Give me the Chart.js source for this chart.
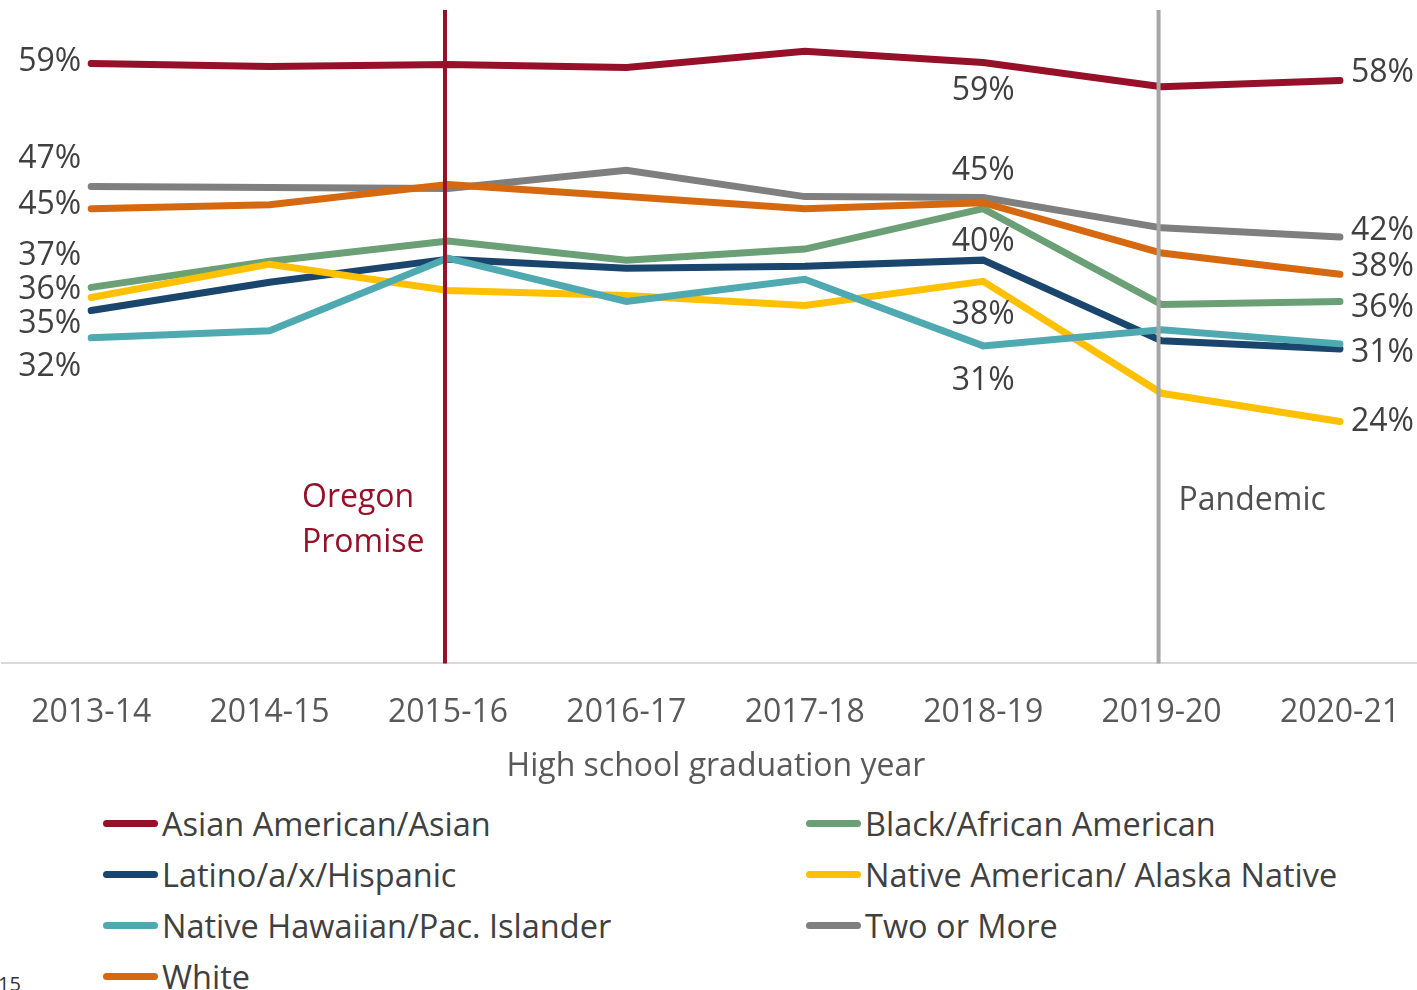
<!DOCTYPE html>
<html>
<head>
<meta charset="utf-8">
<script src="https://cdn.jsdelivr.net/npm/chart.js@4"></script>
<style>
  html, body { margin: 0; padding: 0; background: #fff; overflow: hidden; }
  body { width: 1417px; height: 990px; position: relative; font-family: "Open Sans", sans-serif; }
  #wrap { position: absolute; left: 0; top: 0; width: 1431px; height: 792px; }
  #legend { position: absolute; left: 103px; top: 798px; display: grid;
            grid-template-columns: 703px 560px; grid-auto-rows: 51px; }
  .item { display: flex; align-items: center; font-size: 32.5px; color: #404040; white-space: nowrap; }
  .swatch { width: 55px; height: 7px; border-radius: 4px; margin-right: 4px; }
  #page { position: absolute; left: -2px; top: 970px; font-size: 20px; color: #333; }
</style>
</head>
<body>
<div id="wrap"><canvas id="chart" width="1431" height="792"></canvas></div>
<div id="legend"></div>
<div id="page">15</div>
<script>
// Graduation years (x axis)
const years = ["2013-14", "2014-15", "2015-16", "2016-17", "2017-18", "2018-19", "2019-20", "2020-21"];

// Series values, % of graduates
const asian    = [59.4, 59.1, 59.3, 59.0, 60.6, 59.5, 57.1, 57.7];
const black    = [37.2, 39.8, 41.8, 39.9, 41.0, 45.0, 35.5, 35.8];
const latino   = [34.9, 37.7, 40.0, 39.1, 39.3, 39.9, 31.9, 31.1];
const nativeAm = [36.2, 39.5, 36.9, 36.4, 35.4, 37.8, 26.7, 23.9];
const nhpi     = [32.2, 32.9, 40.1, 35.8, 38.0, 31.4, 33.0, 31.6];
const twoMore  = [47.2, 47.1, 47.0, 48.8, 46.2, 46.1, 43.1, 42.2];
const white    = [45.0, 45.4, 47.4, 46.2, 45.0, 45.6, 40.6, 38.5];

const seriesNames = ["Asian American/Asian", "Black/African American", "Latino/a/x/Hispanic",
    "Native American/ Alaska Native", "Native Hawaiian/Pac. Islander", "Two or More", "White"];
const seriesColors = ["#951028", "#6B9F76", "#1A466E", "#FFC000", "#4FA9B0", "#7F7F7F", "#D6690F"];

// Value labels as printed on the chart: [text, value where the label sits]
const leftLabels  = [["59%", 59.6], ["47%", 49.9], ["45%", 45.4], ["37%", 40.3], ["36%", 37.0], ["35%", 33.6], ["32%", 29.3]];
const midLabels   = [["59%", 56.7], ["45%", 48.7], ["40%", 41.7], ["38%", 34.5], ["31%", 27.9]];
const rightLabels = [["58%", 58.5], ["42%", 42.8], ["38%", 39.2], ["36%", 35.2], ["31%", 30.7], ["24%", 23.9]];

// Event markers: [category index, lines of text, value where text sits]
const promise  = [2, ["Oregon", "Promise"], [16.3, 11.9]];
const pandemic = [6, ["Pandemic"], [16.0]];

const xTitle = "High school graduation year";

const allSeries = [asian, black, latino, nativeAm, nhpi, twoMore, white];
const FONT = '32px "Open Sans", sans-serif';

const overlay = {
    id: "overlay",
    afterDatasetsDraw(chart) {
        const { ctx, chartArea: area, scales: { x, y } } = chart;
        ctx.save();

        // vertical event lines
        [[promise[0], "#951028"], [pandemic[0], "#A6A6A6"]].forEach(([idx, color]) => {
            const px = x.getPixelForValue(idx) - 3;
            ctx.strokeStyle = color;
            ctx.lineWidth = 4;
            ctx.beginPath();
            ctx.moveTo(px, area.top);
            ctx.lineTo(px, area.bottom + 1);
            ctx.stroke();
        });

        ctx.font = FONT;
        ctx.textBaseline = "middle";
        ctx.fillStyle = "#404040";

        ctx.textAlign = "right";
        leftLabels.forEach(([t, v]) => ctx.fillText(t, x.getPixelForValue(0) - 10, y.getPixelForValue(v)));
        ctx.textAlign = "center";
        midLabels.forEach(([t, v]) => ctx.fillText(t, x.getPixelForValue(5), y.getPixelForValue(v)));
        ctx.textAlign = "left";
        rightLabels.forEach(([t, v]) => ctx.fillText(t, x.getPixelForValue(7) + 11, y.getPixelForValue(v)));

        ctx.fillStyle = "#951028";
        promise[1].forEach((t, i) => ctx.fillText(t, x.getPixelForValue(promise[0]) - 146, y.getPixelForValue(promise[2][i])));
        ctx.fillStyle = "#505050";
        pandemic[1].forEach((t, i) => ctx.fillText(t, x.getPixelForValue(pandemic[0]) + 17, y.getPixelForValue(pandemic[2][i])));

        // axis title, kept close under the tick labels
        ctx.fillStyle = "#595959";
        ctx.textAlign = "center";
        ctx.fillText(xTitle, 716, area.bottom + 104);

        ctx.restore();
    }
};

const chart = new Chart(document.getElementById("chart"), {
    type: "line",
    data: {
        labels: years,
        datasets: allSeries.map((data, i) => ({
            label: seriesNames[i],
            data,
            borderColor: seriesColors[i],
            backgroundColor: seriesColors[i],
            borderWidth: 7,
            borderCapStyle: "round",
            pointRadius: 0,
            tension: 0,
            order: allSeries.length - i   // later series painted on top, like the original
        }))
    },
    options: {
        responsive: false,
        animation: false,
        layout: { padding: { left: 2, right: 0, top: 10, bottom: 29 } },
        plugins: { legend: { display: false }, tooltip: { enabled: false } },
        scales: {
            x: {
                offset: true,
                grid: { display: false, drawTicks: false },
                border: { display: true, color: "#D9D9D9", width: 2 },
                ticks: { color: "#595959", font: { family: "Open Sans", size: 32 }, padding: 31, maxRotation: 0 },
                title: { display: false }
            },
            y: { display: false, min: 0, max: 64.7 }
        }
    },
    plugins: [overlay]
});

// HTML legend, two columns
const legend = document.getElementById("legend");
seriesNames.forEach((name, i) => {
    const item = document.createElement("div");
    item.className = "item";
    item.innerHTML = `<span class="swatch" style="background:${seriesColors[i]}"></span>${name}`;
    legend.appendChild(item);
});
</script>
</body>
</html>
